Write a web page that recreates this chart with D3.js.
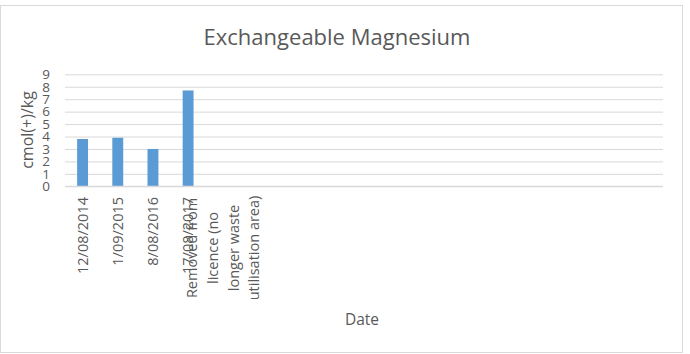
<!DOCTYPE html>
<html><head><meta charset="utf-8">
<script src="https://cdn.jsdelivr.net/npm/d3@7"></script>
<style>body{margin:0;background:#fff}svg{display:block}text{font-family:"Open Sans",sans-serif;fill:#595959}</style>
</head><body><svg id="c" width="690" height="354"></svg>
<script>
const categories = ["12/08/2014","1/09/2015","8/08/2016","17/08/2017","Removed from licence (no longer waste utilisation area)","c6","c7","c8","c9","c10","c11","c12","c13","c14","c15","c16","c17"];
const labelLines = [["12/08/2014"],["1/09/2015"],["8/08/2016"],["17/08/2017"],["Removed from","licence (no","longer waste","utilisation area)"],[],[],[],[],[],[],[],[],[],[],[],[]];
const values = [3.8, 3.9, 3.0, 7.7, null, null, null, null, null, null, null, null, null, null, null, null, null];
const yTicks = [0,1,2,3,4,5,6,7,8,9];

const svg = d3.select("#c");
const m = {l:65, r:663, t:74.3, b:186.3};
svg.append("rect").attr("x",0.5).attr("y",5.5).attr("width",682).attr("height",347).attr("fill","#fff").attr("stroke","#d9d9d9");

const x = d3.scaleBand().domain(categories).range([m.l,m.r]).paddingInner(0.69).paddingOuter(0.345);
const y = d3.scaleLinear().domain([0,9]).range([m.b,m.t]);

const ya = svg.append("g").attr("transform",`translate(${m.l},0)`)
  .call(d3.axisLeft(y).tickValues(yTicks).tickSize(-(m.r-m.l)).tickPadding(10));
ya.select(".domain").remove();
ya.selectAll(".tick line").attr("stroke","#d9d9d9");
ya.selectAll(".tick text").attr("font-size",13.5).attr("fill","#595959").attr("font-family","Open Sans").attr("dx",-5);

svg.append("g").selectAll("rect").data(values.map((v,i)=>({c:categories[i],v})).filter(d=>d.v!=null))
  .enter().append("rect")
  .attr("x",d=>x(d.c)).attr("width",x.bandwidth())
  .attr("y",d=>y(d.v)).attr("height",d=>y(0)-y(d.v)).attr("fill","#5b9bd5");

svg.append("line").attr("x1",m.l).attr("x2",m.r).attr("y1",m.b).attr("y2",m.b).attr("stroke","#d9d9d9").attr("stroke-width",1.3);

const xg = svg.append("g");
const fs = 14.5;
categories.forEach((c,i)=>{
  const lines = labelLines[i];
  const cx = x(c)+x.bandwidth()/2;
  if(lines.length===1){
    xg.append("text").attr("transform",`translate(${cx+5},197) rotate(-90)`).attr("text-anchor","end")
      .attr("font-size",fs).text(lines[0]);
  } else if(lines.length>1){
    const sp = 20.7;
    lines.forEach((t,j)=>{
      const lx = cx + (j-(lines.length-1)/2)*sp + 5;
      xg.append("text").attr("transform",`translate(${lx},248) rotate(-90)`).attr("text-anchor","middle")
        .attr("font-size",fs).text(t);
    });
  }
});

svg.append("text").attr("x",337).attr("y",45).attr("text-anchor","middle").attr("font-size",22).text("Exchangeable Magnesium");
svg.append("text").attr("x",362).attr("y",325).attr("text-anchor","middle").attr("font-size",15.5).text("Date");
svg.append("text").attr("transform","translate(33,130) rotate(-90)").attr("text-anchor","middle").attr("font-size",16).text("cmol(+)/kg");
</script></body></html>
